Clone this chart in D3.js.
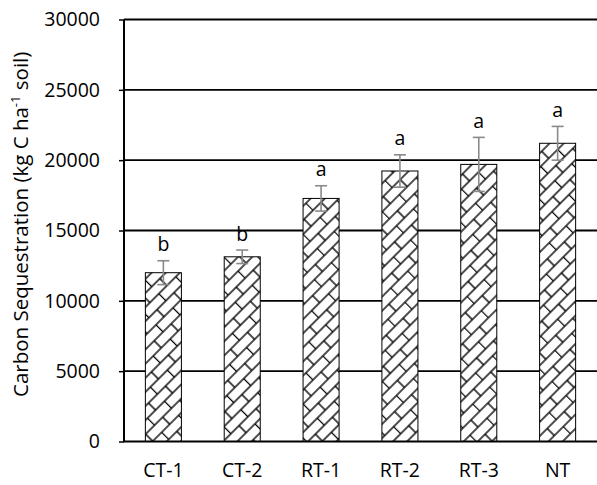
<!DOCTYPE html>
<html>
<head>
<meta charset="utf-8">
<script src="https://cdn.jsdelivr.net/npm/d3@7"></script>
<style>
  html, body { margin: 0; padding: 0; background: #fff; }
  svg { display: block; }
  text { font-family: "Open Sans", Lato, sans-serif; font-weight: 400; fill: #000; }
</style>
</head>
<body>
<svg id="chart" width="597" height="485"></svg>
<script>
const categories = ["CT-1", "CT-2", "RT-1", "RT-2", "RT-3", "NT"];
const values = [12000, 13130, 17280, 19230, 19700, 21200];
const errors = [850, 480, 900, 1150, 1920, 1200];
const letters = ["b", "b", "a", "a", "a", "a"];
const yTicks = [0, 5000, 10000, 15000, 20000, 25000, 30000];

const svg = d3.select("#chart");
const pLeft = 124, pRight = 597, pTop = 19.5, pBottom = 441.5;

const x = d3.scaleBand().domain(categories).range([pLeft, pRight]).paddingInner(0.543).paddingOuter(0.271);
const y = d3.scaleLinear().domain([0, 30000]).range([pBottom, pTop]);

// pattern: diagonal bricks
const defs = svg.append("defs");
const W = 24, H = 10;
const pat = defs.append("pattern")
  .attr("id", "shingle")
  .attr("patternUnits", "userSpaceOnUse")
  .attr("width", W).attr("height", 2 * H)
  .attr("patternTransform", "rotate(-45)");
pat.append("rect").attr("width", W).attr("height", 2 * H).attr("fill", "#fff");
const pp = pat.append("g").attr("stroke", "#000").attr("stroke-width", 1.4).attr("fill", "none");
pp.append("line").attr("x1", 0).attr("x2", W).attr("y1", 0).attr("y2", 0);
pp.append("line").attr("x1", 0).attr("x2", W).attr("y1", H).attr("y2", H);
pp.append("line").attr("x1", 0).attr("x2", W).attr("y1", 2 * H).attr("y2", 2 * H);
pp.append("line").attr("x1", 0.5).attr("x2", 0.5).attr("y1", 0).attr("y2", H);
pp.append("line").attr("x1", W / 2).attr("x2", W / 2).attr("y1", H).attr("y2", 2 * H);

// gridlines
svg.append("g").selectAll("line").data(yTicks.filter(d => d > 0)).join("line")
  .attr("x1", pLeft).attr("x2", pRight)
  .attr("y1", d => y(d)).attr("y2", d => y(d))
  .attr("stroke", "#000").attr("stroke-width", 1.8);

// y axis
const yAxis = svg.append("g").attr("transform", `translate(${pLeft},0)`)
  .call(d3.axisLeft(y).tickValues(yTicks).tickSize(5).tickPadding(19).tickFormat(d3.format("d")));
yAxis.select(".domain").attr("stroke", "#000").attr("stroke-width", 2).attr("d", `M0,${pBottom}V${pTop}`);
yAxis.selectAll(".tick line").attr("stroke", "#000").attr("stroke-width", 1.5);
yAxis.selectAll(".tick text").style("font-size", "19.5px").style("font-family", "'Open Sans', sans-serif").attr("fill", "#000");

// bars
const data = categories.map((c, i) => ({ c, v: values[i], e: errors[i], l: letters[i] }));
svg.append("g").selectAll("rect").data(data).join("rect")
  .attr("x", d => x(d.c)).attr("width", x.bandwidth())
  .attr("y", d => y(d.v)).attr("height", d => y(0) - y(d.v))
  .attr("fill", "url(#shingle)").attr("stroke", "#000").attr("stroke-width", 1);

// x axis line
svg.append("line").attr("x1", pLeft - 1).attr("x2", pRight).attr("y1", pBottom).attr("y2", pBottom)
  .attr("stroke", "#000").attr("stroke-width", 2);

// error bars
const eb = svg.append("g").attr("stroke", "#8a8a8a").attr("stroke-width", 1.6);
data.forEach(d => {
  const cx = x(d.c) + x.bandwidth() / 2;
  eb.append("line").attr("x1", cx).attr("x2", cx).attr("y1", y(d.v + d.e)).attr("y2", y(d.v - d.e));
  eb.append("line").attr("x1", cx - 6).attr("x2", cx + 6).attr("y1", y(d.v + d.e)).attr("y2", y(d.v + d.e));
  eb.append("line").attr("x1", cx - 6).attr("x2", cx + 6).attr("y1", y(d.v - d.e)).attr("y2", y(d.v - d.e));
});

// letters
svg.append("g").selectAll("text").data(data).join("text")
  .attr("x", d => x(d.c) + x.bandwidth() / 2)
  .attr("y", d => y(d.v + d.e) - 9.5)
  .attr("text-anchor", "middle").style("font-size", "19.5px")
  .text(d => d.l);

// x labels
svg.append("g").selectAll("text").data(categories).join("text")
  .attr("x", d => x(d) + x.bandwidth() / 2)
  .attr("y", 477)
  .attr("text-anchor", "middle").style("font-size", "19.5px")
  .text(d => d);

// y title
const yt = svg.append("text")
  .attr("transform", "translate(28,397) rotate(-90)")
  .attr("text-anchor", "start").style("font-size", "20.5px");
yt.append("tspan").text("Carbon Sequestration (kg C ha");
yt.append("tspan").attr("dy", -8).style("font-size", "13px").text("-1");
yt.append("tspan").attr("dy", 8).text(" soil)");
</script>
</body>
</html>
